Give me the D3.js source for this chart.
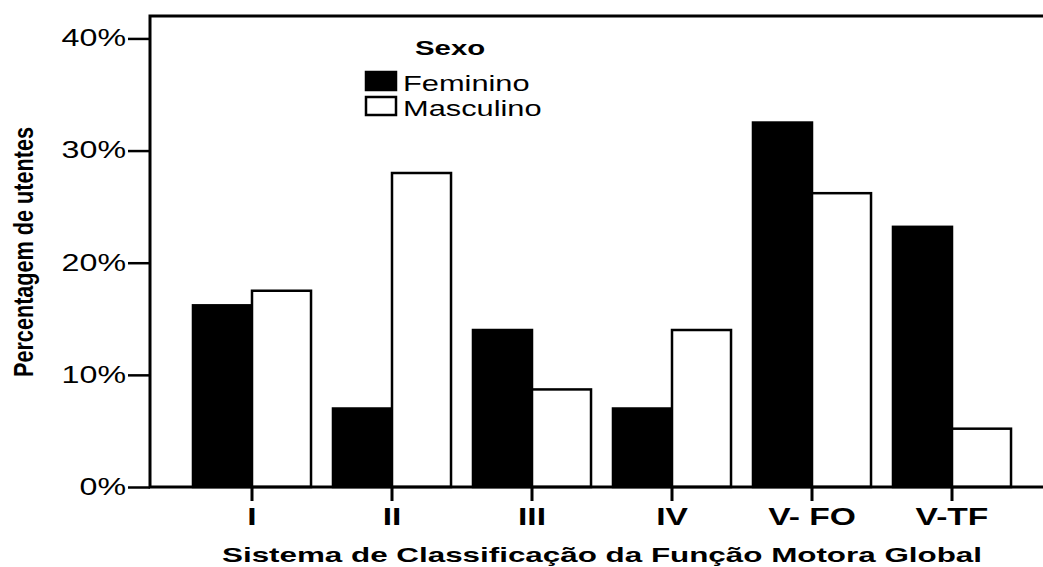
<!DOCTYPE html>
<html>
<head>
<meta charset="utf-8">
<script src="https://cdn.jsdelivr.net/npm/d3@7"></script>
<style>
  body { margin: 0; background: #fff; }
  text { font-family: "Liberation Sans", Arial, sans-serif; fill: #000; }
</style>
</head>
<body>
<main></main>
<script>
const w = 1043;
const h = 567;

// data (% of utentes)
const categories = ["I", "II", "III", "IV", "V- FO", "V-TF"];
const series = ["Feminino", "Masculino"];
const feminino = [16.2, 7.0, 14.0, 7.0, 32.5, 23.2];
const masculino = [17.5, 28.0, 8.7, 14.0, 26.2, 5.2];
const yTicks = [0, 10, 20, 30, 40];
const colors = { Feminino: "#000", Masculino: "#fff" };

const rows = categories.map((c, i) => ({ cat: c, Feminino: feminino[i], Masculino: masculino[i] }));

const sx = 1.4; // the original picture is stretched sideways

const svg = d3.select("main")
  .append("svg")
  .attr("width", w)
  .attr("height", h);

svg.append("rect").attr("width", w).attr("height", h).attr("fill", "#fff");

// scales
const x = d3.scaleBand()
  .domain(categories)
  .range([182, 1022]);
const xSub = d3.scaleBand()
  .domain(series)
  .range([0, x.bandwidth()])
  .paddingOuter(0.186);
const y = d3.scaleLinear()
  .domain([0, 42])
  .range([487, 16]);

// bars
svg.append("g")
  .selectAll("g")
  .data(rows)
  .enter()
  .append("g")
  .attr("transform", d => `translate(${x(d.cat)},0)`)
  .selectAll("rect")
  .data(d => series.map(s => ({ key: s, value: d[s] })))
  .enter()
  .append("rect")
  .attr("x", d => xSub(d.key))
  .attr("width", xSub.bandwidth())
  .attr("y", d => y(d.value))
  .attr("height", d => y(0) - y(d.value))
  .attr("fill", d => colors[d.key])
  .attr("stroke", "#000")
  .attr("stroke-width", 2.5);

// frame: left axis, top and bottom lines (right side runs off the picture)
svg.append("rect")
  .attr("x", 150)
  .attr("y", y(42))
  .attr("width", 950)
  .attr("height", y(0) - y(42))
  .attr("fill", "none")
  .attr("stroke", "#000")
  .attr("stroke-width", 3);

// y axis
const yAxis = d3.axisLeft(y)
  .tickValues(yTicks)
  .tickSize(22)
  .tickSizeOuter(0)
  .tickPadding(2)
  .tickFormat(d => d + "%");
const gy = svg.append("g")
  .attr("transform", "translate(150,0)")
  .call(yAxis);
gy.select(".domain").remove();
gy.selectAll(".tick line").attr("stroke", "#000").attr("stroke-width", 2.5);
gy.selectAll(".tick text")
  .attr("font-size", 23)
  .attr("font-family", "Liberation Sans, Arial, sans-serif")
  .attr("x", -24 / sx)
  .attr("transform", `scale(${sx},1)`);

// x axis
const xAxis = d3.axisBottom(x)
  .tickSize(14)
  .tickSizeOuter(0)
  .tickPadding(7);
const gx = svg.append("g")
  .attr("transform", `translate(0,${y(0)})`)
  .call(xAxis);
gx.select(".domain").remove();
gx.selectAll(".tick line").attr("stroke", "#000").attr("stroke-width", 3);
gx.selectAll(".tick text")
  .attr("font-size", 24)
  .attr("font-weight", "bold")
  .attr("font-family", "Liberation Sans, Arial, sans-serif")
  .attr("transform", `scale(${sx},1)`);

// axis titles
svg.append("text")
  .attr("x", 602)
  .attr("y", 562)
  .attr("text-anchor", "middle")
  .attr("font-size", 21)
  .attr("font-weight", "bold")
  .attr("textLength", 760)
  .attr("lengthAdjust", "spacingAndGlyphs")
  .text("Sistema de Classificação da Função Motora Global");

svg.append("text")
  .attr("transform", `translate(33,252) rotate(-90) scale(1,${sx})`)
  .attr("text-anchor", "middle")
  .attr("font-size", 19.5)
  .attr("font-weight", "bold")
  .attr("textLength", 250)
  .attr("lengthAdjust", "spacingAndGlyphs")
  .text("Percentagem de utentes");

// legend
const legend = svg.append("g")
  .attr("transform", "translate(365,55)");
legend.append("text")
  .attr("transform", `translate(50,0) scale(${sx},1)`)
  .attr("font-size", 21)
  .attr("font-weight", "bold")
  .text("Sexo");
const item = legend.selectAll(".item")
  .data(series)
  .enter()
  .append("g")
  .attr("class", "item")
  .attr("transform", (d, i) => `translate(0,${17 + i * 25})`);
item.append("rect")
  .attr("x", 1)
  .attr("width", 30)
  .attr("height", 18)
  .attr("fill", d => colors[d])
  .attr("stroke", "#000")
  .attr("stroke-width", 2.5);
item.append("text")
  .attr("transform", `translate(38,19) scale(${sx},1)`)
  .attr("font-size", 22)
  .text(d => d);
</script>
</body>
</html>
